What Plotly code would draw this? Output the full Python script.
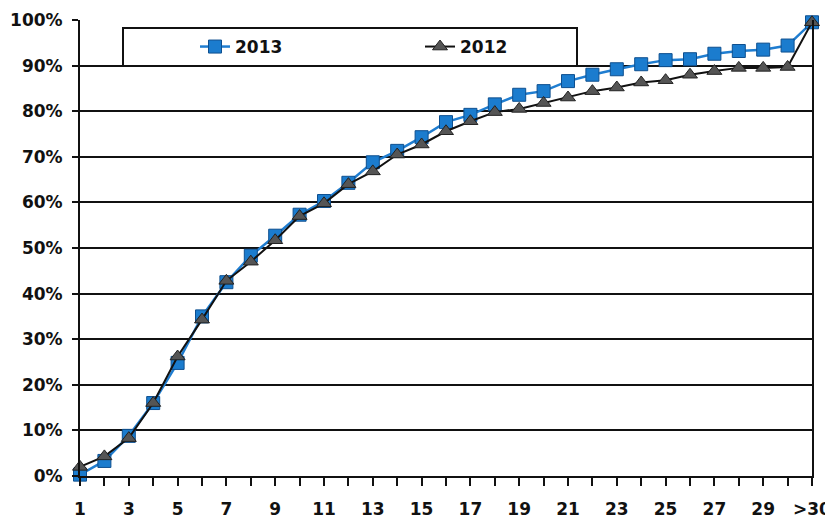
import plotly.graph_objects as go

categories = [str(i) for i in range(1, 31)] + [">30"]
tick_labels = [c if (i % 2 == 0 or c == ">30") else "" for i, c in enumerate(categories)]

y2013 = [0.3, 3.3, 8.8, 16.0, 24.8, 35.0, 42.5, 48.3, 52.7, 57.3, 60.3, 64.3, 68.8, 71.3,
         74.3, 77.6, 79.2, 81.5, 83.6, 84.4, 86.6, 88.0, 89.2, 90.3, 91.2, 91.4, 92.6,
         93.2, 93.5, 94.4, 99.5]
y2012 = [2.0, 4.3, 8.3, 16.0, 26.2, 34.3, 42.8, 47.0, 51.7, 57.0, 59.8, 64.0, 66.8, 70.5,
         72.7, 75.6, 77.8, 79.8, 80.5, 81.8, 83.0, 84.4, 85.2, 86.3, 86.8, 88.0, 88.8,
         89.5, 89.5, 89.7, 99.5]

# page has an 8px body margin; size the figure to fill the rest of the window
OFF = 8
W, H = 833 - OFF, 522 - OFF
ml, mr, mt, mb = 80 - OFF, 21, 20 - OFF, 46
pw, ph = W - ml - mr, H - mt - mb

def px_x(xs):
    return (xs - OFF - ml) / pw

def px_y(ys):
    return (H + OFF - mb - ys) / ph

FONT = "DejaVu Sans"

fig = go.Figure()
fig.add_trace(go.Scatter(
    x=categories, y=y2013, name="2013", mode="lines+markers",
    line=dict(color="#1f7dd0", width=2.5),
    marker=dict(symbol="square", size=13, color="#1b7cce",
                line=dict(color="#0e4f8f", width=1)),
    cliponaxis=False,
))
fig.add_trace(go.Scatter(
    x=categories, y=y2012, name="2012", mode="lines+markers",
    line=dict(color="#111111", width=2),
    marker=dict(symbol="triangle-up", size=13, color="#555555",
                line=dict(color="#222222", width=1)),
    cliponaxis=False,
))

fig.add_shape(type="rect", xref="paper", yref="paper",
              x0=px_x(123), x1=px_x(577), y0=px_y(66), y1=px_y(28),
              line=dict(color="#111111", width=2), fillcolor="white", layer="below")

fig.update_layout(
    width=W, height=H,
    margin=dict(l=ml, r=mr, t=mt, b=mb, autoexpand=False),
    paper_bgcolor="white", plot_bgcolor="white",
    font=dict(family=FONT, size=17, color="#111111"),
    showlegend=True,
    legend=dict(
        orientation="h", x=px_x(195), xanchor="left", y=px_y(47), yanchor="middle",
        bgcolor="rgba(0,0,0,0)", borderwidth=0,
        entrywidth=180, entrywidthmode="pixels",
        font=dict(family=FONT, size=17, weight="bold", color="#111111"),
    ),
    xaxis=dict(
        type="category", categoryorder="array", categoryarray=categories,
        range=[0, len(categories) - 1], automargin=False,
        tickmode="array", tickvals=categories, ticktext=tick_labels,
        ticks="outside", ticklen=8, tickwidth=2, tickcolor="#111111",
        showline=True, linecolor="#111111", linewidth=2,
        showgrid=False, zeroline=False,
        tickfont=dict(family=FONT, size=17, weight="bold", color="#111111"),
        ticklabelstandoff=9,
    ),
    yaxis=dict(
        range=[0, 100], dtick=10, ticksuffix="%", automargin=False,
        ticks="outside", ticklen=6, tickwidth=2, tickcolor="#111111",
        showline=True, linecolor="#111111", linewidth=2, mirror=True,
        showgrid=True, gridcolor="#111111", gridwidth=2, zeroline=False,
        tickfont=dict(family=FONT, size=17, weight="bold", color="#111111"),
        ticklabelstandoff=6,
    ),
)

fig.write_html("out.html")
